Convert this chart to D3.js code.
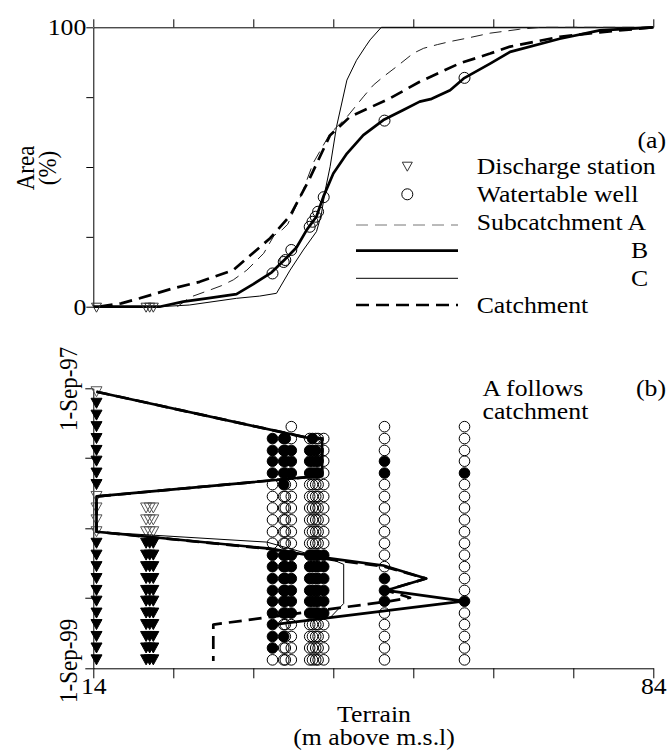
<!DOCTYPE html>
<html><head><meta charset="utf-8">
<script src="https://cdn.jsdelivr.net/npm/d3@7"></script>
<style>
html,body{margin:0;padding:0;background:#fff;}
svg{display:block;}
svg text{font-family:'Liberation Serif','DejaVu Serif',serif !important;font-size:23px !important;fill:#000;}
</style></head><body>
<svg id="chart" width="670" height="754"></svg>
<script>
// ---------- tick values / labels ----------
const elevTicks = [14, 24, 34, 44, 54, 64, 74, 84];
const elevTickLabels = ["14", "", "", "", "", "", "", "84"];
const areaTicks = [0, 25, 50, 75, 100];
const areaTickLabels = ["0", "", "", "", "100"];
const dateTicks = ["1997-09-01", "1998-03-01", "1998-09-01", "1999-03-01", "1999-09-01"];
const dateTickLabels = ["1-Sep-97", "", "", "", "1-Sep-99"];

// ---------- (a) hypsometric curves: [elevation m, area %] ----------
const subA = [[24.5,0],[26.1,3.4],[28.6,6],[30,7.5],[31.5,9.6],[33.2,13.1],[35.3,19.1],[36.6,25.5],[37.6,27.5],[38.3,29.5],[40,40],[41.5,51.5],[43.6,62],[45.7,67.9],[47.75,75.1],[49,79.3],[50.25,82.3],[51.9,85.9],[54,90.7],[55.3,92.5],[57,93.8],[58.6,94.9],[60.7,96.1],[63.6,97.9],[67.3,99.3],[70,100],[84,100]];
const subB = [[14,0],[22.3,0],[25.25,1.8],[28.2,3],[31.9,4.5],[34,8.1],[36.3,12.3],[38,17.1],[39.4,21.2],[40.7,27.6],[41.9,32.3],[42.75,39.3],[44,47.7],[45.7,54.8],[47.75,61.4],[50.25,66.8],[52.75,70.4],[54.8,73.4],[56.3,74.4],[58.6,77.5],[60.3,81.7],[63.6,87],[66.1,91.2],[72.3,95.9],[77.3,98.9],[84,100]];
const subC = [[14,0],[22.3,0],[26,0.6],[31.9,3],[34.8,3.8],[36.9,4.8],[38.6,13.1],[40.25,20.3],[41.9,26.9],[42.5,33],[43,41.8],[43.6,50.1],[44.4,64.4],[45.7,81.1],[46.9,88.2],[48,93],[48.6,95.5],[50,100],[84,100]];
const catchment = [[14.8,0],[17.5,1.2],[19.8,3],[24,6.6],[27.3,8.9],[31.5,13.1],[33.6,18.3],[36.1,24.5],[38.6,32.6],[40.9,45],[43.6,61.4],[46.1,68],[51.1,74.6],[54.8,80.5],[59.8,87.1],[63.6,90.6],[66.1,93.1],[72.3,96.6],[77.3,98.2],[84,100]];

// ---------- monitoring points ----------
const stationElev = [14.4, 20.6, 21.05, 21.5];
const wellElev = [36.4, 37.8, 38.0, 38.75, 41.05, 41.4, 41.8, 42.1, 42.8, 50.4, 60.4];
const wellArea = [11.9, 16.0, 16.7, 20.3, 28.6, 30.4, 32.2, 34.0, 39.2, 66.6, 81.9];

// ---------- (b) monthly observations: f = filled, o = open, - = none ----------
const sampleDates = ["1997-09-10","1997-10-10","1997-11-10","1997-12-10","1998-01-10","1998-02-10","1998-03-10","1998-04-10","1998-05-10","1998-06-10","1998-07-10","1998-08-10","1998-09-10","1998-10-10","1998-11-10","1998-12-10","1999-01-10","1999-02-10","1999-03-10","1999-04-10","1999-05-10","1999-06-10","1999-07-10","1999-08-10"];
const stationStatus = [
  "offffffffoooofffffffffff",
  "----------ooofffffffffff",
  "----------ooofffffffffff",
  "----------ooofffffffffff"
];
const wellStatus = [
  "----ffffoooooofffffffffo",
  "----fffffoooooffffffofoo",
  "----ffffooooooffffffoooo",
  "---oofffooooooffffffoooo",
  "----offfooooooffffffoooo",
  "----ffffooooooffffffoooo",
  "----offfooooooffffffoooo",
  "----ooffooooooffffffoooo",
  "----ooooooooooffffffoooo",
  "---oooffoooooooofffooooo",
  "---oooofoooooooooofooooo"
];

// ---------- (b) contributing-elevation traces: [elevation m, date] ----------
const traceB = [[14.4,"1997-09-10"],[41.2,"1998-01-10"],[42.6,"1998-01-10"],[42.6,"1998-04-17"],[14.4,"1998-06-10"],[14.4,"1998-09-10"],[36.1,"1998-10-24"],[41.1,"1998-11-11"],[43.8,"1998-11-19"],[50.25,"1998-12-07"],[55.6,"1999-01-10"],[50.6,"1999-02-10"],[60.3,"1999-03-10"],[36.5,"1999-05-10"]];
const traceC = [[14.4,"1997-09-10"],[41.2,"1998-01-10"],[42.6,"1998-01-10"],[42.6,"1998-04-17"],[14.4,"1998-06-10"],[14.4,"1998-09-10"],[35.7,"1998-10-07"],[40.6,"1998-11-05"],[43.6,"1998-11-19"],[45.3,"1998-12-04"],[45.3,"1999-03-16"],[43.6,"1999-04-22"],[36.5,"1999-05-10"]];
const traceCatch = [[14.4,"1997-09-10"],[41.2,"1998-01-10"],[42.6,"1998-01-10"],[42.6,"1998-04-17"],[14.4,"1998-06-10"],[14.4,"1998-09-10"],[36.1,"1998-10-25"],[41.1,"1998-11-13"],[43.8,"1998-11-22"],[50.25,"1998-12-09"],[55.6,"1999-01-10"],[50.6,"1999-02-10"],[53.6,"1999-03-01"],[51.1,"1999-03-10"],[29.0,"1999-05-10"],[29.0,"1999-08-13"]];

// ---------- drawing ----------
const FONT = "'Liberation Serif','DejaVu Serif',serif";
const SX = 1.12; // horizontal text stretch seen in the reference
const svg = d3.select("#chart");
const parse = d3.timeParse("%Y-%m-%d");
const x = d3.scaleLinear().domain([14, 84]).range([93.3, 653.3]);
const yA = d3.scaleLinear().domain([0, 100]).range([306.7, 27.3]);
const yT = d3.scaleTime().domain([parse("1997-09-01"), parse("1999-09-01")]).range([388.3, 668.3]);

function styleAxis(g){
  g.attr("font-size", null).attr("font-family", null);
  g.selectAll("path,line").attr("stroke","#000").attr("stroke-width",1);
  g.selectAll("text").attr("font-family", FONT).attr("font-size", 23);
}
function label(xx, yy, t, anchor, rot){
  return svg.append("text")
    .attr("transform", `translate(${xx},${yy}) scale(${SX},1)` + (rot ? " rotate(-90)" : ""))
    .attr("text-anchor", anchor || "start").attr("font-family", FONT).attr("font-size", 23).text(t);
}

// panel (a) axes
svg.append("g").attr("transform", `translate(0,${yA(100)})`)
  .call(d3.axisTop(x).tickValues(elevTicks).tickSize(8).tickSizeOuter(0).tickFormat(""))
  .call(styleAxis);
const gA = svg.append("g").attr("transform", `translate(${x(14)},0)`)
  .call(d3.axisLeft(yA).tickValues(areaTicks).tickSize(7).tickSizeOuter(0).tickPadding(0)
    .tickFormat((d, i) => areaTickLabels[i]))
  .call(styleAxis);
gA.selectAll(".tick text").each(function(){
  const t = d3.select(this);
  t.attr("transform", `translate(${t.attr("x")},0) scale(${SX},1)`).attr("x", 0);
});

// panel (b) axes
const gl = svg.append("g").attr("transform", `translate(${x(14)},0)`)
  .call(d3.axisLeft(yT).tickValues(dateTicks.map(parse)).tickSize(8).tickSizeOuter(0)
    .tickFormat((d, i) => dateTickLabels[i]))
  .call(styleAxis);
gl.selectAll(".tick text")
  .attr("transform", (d, i) => `translate(-16.5,${i === dateTicks.length - 1 ? -8 : 0}) scale(${SX},1) rotate(-90)`)
  .attr("x", 0).attr("y", 0).attr("dy", 0).attr("text-anchor", "middle");
const gb = svg.append("g").attr("transform", `translate(0,${yT.range()[1]})`)
  .call(d3.axisBottom(x).tickValues(elevTicks).tickSize(10).tickSizeOuter(0).tickPadding(-1)
    .tickFormat((d, i) => elevTickLabels[i]))
  .call(styleAxis);
gb.selectAll(".tick text").each(function(){
  const t = d3.select(this);
  t.attr("transform", `translate(0,${t.attr("y")}) scale(${SX},1)`).attr("y", 0);
});

// styles
const sty = {
  A: {w: 1, dash: "12,7", c: "#222"},
  B: {w: 2.7, dash: null, c: "#000"},
  C: {w: 1, dash: null, c: "#000"},
  K: {w: 2.7, dash: "13,7", c: "#000"}
};
function applyStyle(sel, s){ sel.attr("fill","none").attr("stroke", s.c).attr("stroke-width", s.w).attr("stroke-dasharray", s.dash).attr("stroke-linejoin","round"); }

// panel (a) curves
const lineA = d3.line().x(d => x(d[0])).y(d => yA(d[1]));
[[subC, sty.C], [subA, sty.A], [subB, sty.B], [catchment, sty.K]].forEach(([data, s]) => {
  svg.append("path").datum(data).attr("d", lineA).call(applyStyle, s);
});

const tri = (w, h) => `M${-w/2},${-h/2}L${w/2},${-h/2}L0,${h/2}Z`;

// panel (a) markers
svg.append("g").selectAll("circle").data(wellElev).join("circle")
  .attr("cx", d => x(d)).attr("cy", (d, i) => yA(wellArea[i])).attr("r", 5.5)
  .attr("fill", "none").attr("stroke", "#000").attr("stroke-width", 1);
svg.append("g").selectAll("path").data(stationElev).join("path")
  .attr("d", tri(10, 9)).attr("transform", d => `translate(${x(d)},${yA(0) + 1})`)
  .attr("fill", "none").attr("stroke", "#333").attr("stroke-width", 1);

// panel (b) markers
const tPts = [];
stationStatus.forEach((s, i) => s.split("").forEach((c, r) => { if (c !== "-") tPts.push({e: stationElev[i], d: sampleDates[r], f: c === "f"}); }));
svg.append("g").selectAll("path").data(tPts).join("path")
  .attr("d", tri(11, 10)).attr("transform", p => `translate(${x(p.e)},${yT(parse(p.d))})`)
  .attr("fill", p => p.f ? "#000" : "none").attr("stroke", p => p.f ? "#000" : "#555").attr("stroke-width", 1);

const cPts = [];
wellStatus.forEach((s, i) => s.split("").forEach((c, r) => { if (c !== "-") cPts.push({e: wellElev[i], d: sampleDates[r], f: c === "f"}); }));
svg.append("g").selectAll("circle").data(cPts).join("circle")
  .attr("cx", p => x(p.e)).attr("cy", p => yT(parse(p.d))).attr("r", 5.3)
  .attr("fill", p => p.f ? "#000" : "none").attr("stroke", "#000").attr("stroke-width", 1);

// panel (b) traces
const lineT = d3.line().x(d => x(d[0])).y(d => yT(parse(d[1])));
[[traceCatch, sty.K], [traceC, sty.C], [traceB, sty.B]].forEach(([data, s]) => {
  svg.append("path").datum(data).attr("d", lineT).call(applyStyle, s);
});

// legend (a)
const lg = svg.append("g");
lg.append("path").attr("d", tri(10, 9)).attr("transform", "translate(407.3,166.7)").attr("fill","none").attr("stroke","#333");
lg.append("circle").attr("cx", 407.3).attr("cy", 194.3).attr("r", 5.5).attr("fill","none").attr("stroke","#000");
[[225, {w:1, dash:"12,7", c:"#777"}], [250.7, sty.B], [278.3, sty.C], [305, sty.K]].forEach(([yy, s]) => {
  lg.append("line").attr("x1", 356).attr("x2", 458).attr("y1", yy).attr("y2", yy).call(applyStyle, s);
});
[["Discharge station", 476.7, 174, "start"], ["Watertable well", 476.7, 201.7, "start"], ["Subcatchment A", 476.7, 230, "start"], ["B", 648.3, 258.3, "end"], ["C", 648.3, 286, "end"], ["Catchment", 476.7, 313.3, "start"], ["(a)", 666, 148, "end"]]
  .forEach(([t, xx, yy, a]) => label(xx, yy, t, a));

// panel (b) annotations
label(482.5, 396, "A follows");
label(482.5, 419, "catchment");
label(666, 396, "(b)", "end");

// axis titles
label(374, 722, "Terrain", "middle");
label(374, 745, "(m above m.s.l)", "middle");
label(34, 168, "Area", "middle", true);
label(56, 168, "(%)", "middle", true);
</script></body></html>
